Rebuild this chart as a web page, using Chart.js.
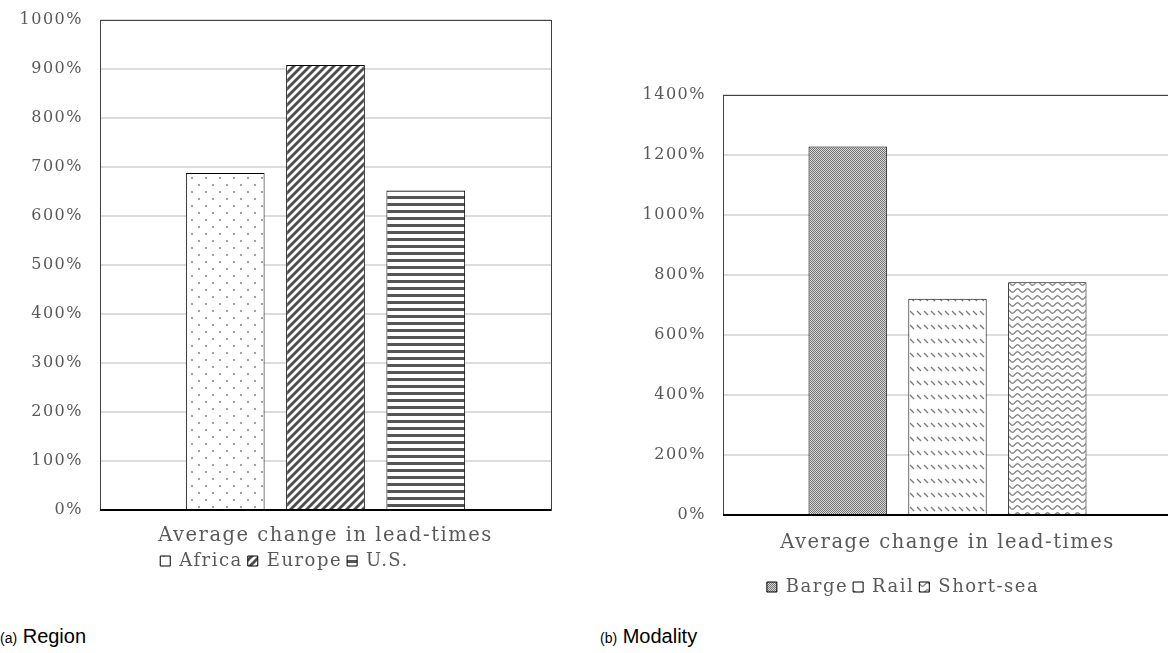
<!DOCTYPE html>
<html>
<head>
<meta charset="utf-8">
<script src="https://cdn.jsdelivr.net/npm/chart.js@4.4.0/dist/chart.umd.min.js"></script>
<style>
    body { margin: 0; width: 1168px; height: 653px; overflow: hidden; background: #fff; position: relative; }
    .painel { position: absolute; top: 0; }
    #painelRegiao { left: 0; }
    #painelModal { left: 600px; }
    .legenda { position: absolute; top: 625px; font-family: "Liberation Sans Narrow", "Liberation Sans", Arial, sans-serif; font-size: 20px; color: #000; }
    .legenda small { font-size: 14px; }
</style>
</head>
<body>
<div class="painel" id="painelRegiao"><canvas id="graficoRegiao" width="560" height="600"></canvas></div>
<div class="painel" id="painelModal"><canvas id="graficoModal" width="600" height="610"></canvas></div>
<div class="legenda" style="left:0"><small>(a)</small> Region</div>
<div class="legenda" style="left:600px"><small>(b)</small> Modality</div>

<script>
const categorias = ['Average change in lead-times'];

const regioes = ['Africa', 'Europe', 'U.S.'];
const valoresRegiao = [688, 908, 652];
const ticksRegiao = { max: 1000, passo: 100 };

const modais = ['Barge', 'Rail', 'Short-sea'];
const valoresModal = [1228, 721, 776];
const ticksModal = { max: 1400, passo: 200 };

const FONTE = '"DejaVu Serif", "Liberation Serif", serif';
const CINZA_TEXTO = '#595959';

function criarPadrao(largura, altura, desenhar) {
    const c = document.createElement('canvas');
    c.width = largura;
    c.height = altura;
    const ctx = c.getContext('2d');
    ctx.fillStyle = '#fff';
    ctx.fillRect(0, 0, largura, altura);
    desenhar(ctx);
    return ctx.createPattern(c, 'repeat');
}

const padroes = {
    pontos: criarPadrao(14, 14, ctx => {
        ctx.fillStyle = '#777';
        [[3, 3], [10, 10]].forEach(([x, y]) => {
            ctx.beginPath();
            ctx.arc(x, y, 0.9, 0, Math.PI * 2);
            ctx.fill();
        });
    }),
    diagonal: criarPadrao(8, 8, ctx => {
        ctx.strokeStyle = '#4d4d4d';
        ctx.lineWidth = 2.8;
        [[0, 8, 8, 0], [-4, 4, 4, -4], [4, 12, 12, 4]].forEach(([x1, y1, x2, y2]) => {
            ctx.beginPath();
            ctx.moveTo(x1, y1);
            ctx.lineTo(x2, y2);
            ctx.stroke();
        });
    }),
    horizontal: criarPadrao(4, 7, ctx => {
        ctx.fillStyle = '#555';
        ctx.fillRect(0, 0, 4, 3);
    }),
    xadrez: criarPadrao(2, 2, ctx => {
        ctx.fillStyle = '#d8d8d8';
        ctx.fillRect(0, 0, 2, 2);
        ctx.fillStyle = '#737373';
        ctx.fillRect(0, 0, 1, 1);
        ctx.fillRect(1, 1, 1, 1);
    }),
    tracos: criarPadrao(7, 14, ctx => {
        ctx.strokeStyle = '#7a7a7a';
        ctx.lineWidth = 1.3;
        ctx.beginPath();
        ctx.moveTo(2, 3);
        ctx.lineTo(6, 7);
        ctx.stroke();
    }),
    ondas: criarPadrao(10, 7, ctx => {
        ctx.strokeStyle = '#868686';
        ctx.lineWidth = 1.4;
        ctx.beginPath();
        for (let x = -1; x <= 11; x += 0.5) {
            const y = 3.5 + 1.7 * Math.sin(2 * Math.PI * x / 10);
            if (x === -1) ctx.moveTo(x, y); else ctx.lineTo(x, y);
        }
        ctx.stroke();
    })
};

// espacamento entre letras, a fonte original e bem larga
const espacamentoLetras = {
    id: 'espacamentoLetras',
    beforeUpdate(chart) { chart.ctx.letterSpacing = '1.5px'; },
    beforeRender(chart) { chart.ctx.letterSpacing = '1.5px'; }
};

const bordaArea = {
    id: 'bordaArea',
    afterDraw(chart) {
        const { ctx, chartArea: a } = chart;
        ctx.save();
        ctx.strokeStyle = '#404040';
        ctx.lineWidth = 1;
        ctx.strokeRect(Math.round(a.left) + 0.5, Math.round(a.top) + 0.5,
            Math.round(a.right - a.left), Math.round(a.bottom - a.top));
        ctx.strokeStyle = '#000';
        ctx.lineWidth = 2;
        ctx.beginPath();
        ctx.moveTo(a.left, Math.round(a.bottom));
        ctx.lineTo(a.right, Math.round(a.bottom));
        ctx.stroke();
        ctx.restore();
    }
};

function montarGrafico(idCanvas, nomes, valores, preenchimentos, ticks, layout) {
    const ctx = document.getElementById(idCanvas).getContext('2d');
    return new Chart(ctx, {
        type: 'bar',
        data: {
            labels: categorias,
            datasets: nomes.map((nome, i) => ({
                label: nome,
                data: [valores[i]],
                backgroundColor: preenchimentos[i],
                borderColor: '#000',
                borderWidth: 1,
                categoryPercentage: 0.667,
                barPercentage: 0.785
            }))
        },
        options: {
            responsive: false,
            animation: false,
            layout: { padding: layout.padding },
            plugins: {
                tooltip: { enabled: false },
                legend: {
                    position: 'bottom',
                    labels: {
                        boxWidth: 10,
                        boxHeight: 10,
                        padding: 5,
                        color: CINZA_TEXTO,
                        font: { family: FONTE, size: 18 }
                    }
                }
            },
            scales: {
                x: {
                    grid: { display: false, drawTicks: false },
                    border: { display: false },
                    ticks: {
                        padding: layout.paddingX,
                        color: CINZA_TEXTO,
                        font: { family: FONTE, size: 19.5 }
                    },
                    afterFit: s => { s.height = layout.alturaX; }
                },
                y: {
                    min: 0,
                    max: ticks.max,
                    grid: { color: '#dcdcdc', lineWidth: 2, drawTicks: false },
                    border: { display: false },
                    ticks: {
                        stepSize: ticks.passo,
                        padding: 17,
                        color: CINZA_TEXTO,
                        font: { family: FONTE, size: 16 },
                        callback: v => v + '%'
                    },
                    afterFit: s => {
                        s.width = layout.larguraY;
                        s.paddingTop = 0;
                        s.paddingBottom = 0;
                    }
                }
            }
        },
        plugins: [espacamentoLetras, bordaArea]
    });
}

document.addEventListener('DOMContentLoaded', () => {
    montarGrafico('graficoRegiao', regioes, valoresRegiao,
        [padroes.pontos, padroes.diagonal, padroes.horizontal], ticksRegiao,
        { padding: { left: 18, right: 9, top: 20, bottom: 20 }, larguraY: 82, alturaX: 37, paddingX: 14 });

    montarGrafico('graficoModal', modais, valoresModal,
        [padroes.xadrez, padroes.tracos, padroes.ondas], ticksModal,
        { padding: { left: 34, right: 28, top: 95, bottom: 4 }, larguraY: 89, alturaX: 58, paddingX: 16 });
});
</script>
</body>
</html>
